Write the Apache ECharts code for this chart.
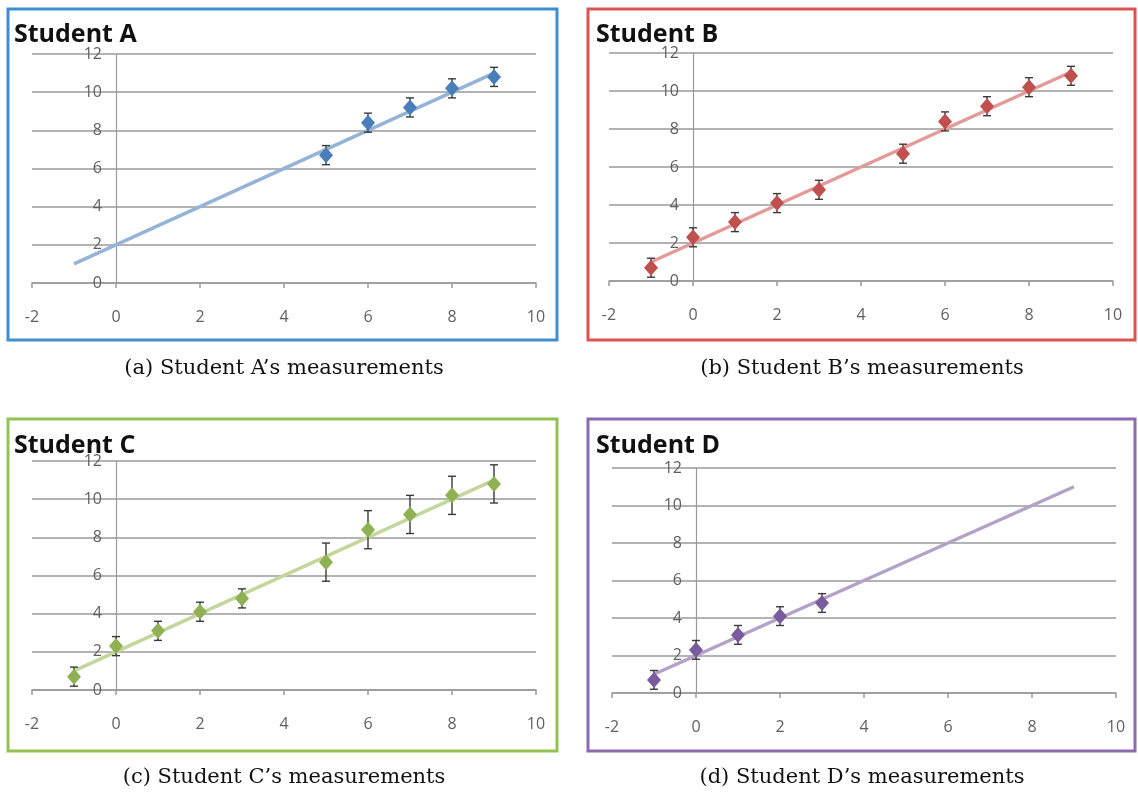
<!DOCTYPE html>
<html>
<head>
<meta charset="utf-8">
<title>Student measurements</title>
<script src="https://cdn.jsdelivr.net/npm/echarts@6/dist/echarts.min.js"></script>
<style>
  html, body { margin: 0; padding: 0; background: #ffffff; }
  #chart { width: 1138px; height: 792px; }
</style>
</head>
<body>
<div id="chart"></div>
<script>
// Measured points (x, y) and error half-widths for each student
const xFew = [5, 6, 7, 8, 9];
const yFew = [6.7, 8.4, 9.2, 10.2, 10.8];
const errFew = [0.5, 0.5, 0.5, 0.5, 0.5];

const xAll = [-1, 0, 1, 2, 3, 5, 6, 7, 8, 9];
const yAll = [0.7, 2.3, 3.1, 4.1, 4.8, 6.7, 8.4, 9.2, 10.2, 10.8];
const errSmall = [0.5, 0.5, 0.5, 0.5, 0.5, 0.5, 0.5, 0.5, 0.5, 0.5];
const errLarge = [0.5, 0.5, 0.5, 0.5, 0.5, 1.0, 1.0, 1.0, 1.0, 1.0];

const xLow = [-1, 0, 1, 2, 3];
const yLow = [0.7, 2.3, 3.1, 4.1, 4.8];
const errLow = [0.5, 0.5, 0.5, 0.5, 0.5];

// Best-fit line endpoints shared by all four plots
const trendX = [-1, 9];
const trendY = [1, 11];

// Panel titles and captions
const panelTitles = ['Student A', 'Student B', 'Student C', 'Student D'];
const captions = [
  '(a) Student A\u2019s measurements',
  '(b) Student B\u2019s measurements',
  '(c) Student C\u2019s measurements',
  '(d) Student D\u2019s measurements'
];

// Axis ranges
const xMin = -2, xMax = 10, xStep = 2;
const yMin = 0, yMax = 12, yStep = 2;

const panels = [
  { xs: xFew, ys: yFew, errs: errFew, marker: '#4a7ebb', line: '#95b3d7', frame: '#3f8fd0' },
  { xs: xAll, ys: yAll, errs: errSmall, marker: '#c0504d', line: '#e39a98', frame: '#dc5450' },
  { xs: xAll, ys: yAll, errs: errLarge, marker: '#8fb154', line: '#c3d69b', frame: '#93c152' },
  { xs: xLow, ys: yLow, errs: errLow, marker: '#7a5c9e', line: '#b3a2c7', frame: '#8b6bb1' }
];

// Layout boxes: plot areas, frames and caption positions
const grids = [
  { left: 32, top: 54, width: 504, height: 229 },
  { left: 609, top: 53, width: 504, height: 228 },
  { left: 32, top: 461, width: 504, height: 229 },
  { left: 612, top: 468, width: 504, height: 225 }
];
const frames = [
  { x: 8, y: 9, w: 549, h: 331 },
  { x: 588, y: 9, w: 547, h: 331 },
  { x: 8, y: 419, w: 549, h: 332 },
  { x: 588, y: 419, w: 547, h: 332 }
];
const titlePos = [
  { left: 14, top: 22 }, { left: 596, top: 22 },
  { left: 14, top: 433 }, { left: 596, top: 433 }
];
const captionPos = [
  { x: 284, y: 358 }, { x: 862, y: 358 },
  { x: 284, y: 767 }, { x: 862, y: 767 }
];

const gridColor = '#9a9a9a';
const labelColor = '#5f5f5f';

const option = {
  backgroundColor: '#ffffff',
  animation: false,
  title: [],
  grid: [],
  xAxis: [],
  yAxis: [],
  series: [],
  graphic: []
};

panels.forEach((p, i) => {
  const g = grids[i];
  option.grid.push(Object.assign({ containLabel: false }, g));

  // The vertical axis sits at x = 0 inside the plot
  const yAxisShift = -(0 - xMin) / (xMax - xMin) * g.width;

  option.title.push({
    text: panelTitles[i],
    left: titlePos[i].left,
    top: titlePos[i].top,
    padding: 0,
    textStyle: { fontFamily: 'Open Sans', fontWeight: 'bold', fontSize: 25, color: '#111111' }
  });
  option.title.push({
    text: captions[i],
    left: captionPos[i].x,
    top: captionPos[i].y,
    textAlign: 'center',
    padding: 0,
    textStyle: { fontFamily: 'DejaVu Serif', fontWeight: 'normal', fontSize: 21, color: '#111111' }
  });

  option.xAxis.push({
    type: 'value',
    gridIndex: i,
    min: xMin, max: xMax, interval: xStep,
    axisLine: { onZero: true, lineStyle: { color: gridColor, width: 1.5 } },
    axisTick: { show: true, length: 5, lineStyle: { color: gridColor, width: 1.5 } },
    splitLine: { show: false },
    axisLabel: { margin: 26, color: labelColor, fontFamily: 'Open Sans', fontSize: 16 }
  });
  option.yAxis.push({
    type: 'value',
    gridIndex: i,
    position: 'left',
    offset: yAxisShift,
    min: yMin, max: yMax, interval: yStep,
    axisLine: { show: true, onZero: false, lineStyle: { color: gridColor, width: 1.2 } },
    axisTick: { show: false },
    splitLine: { show: true, lineStyle: { color: gridColor, width: 1.5 } },
    axisLabel: { margin: 14, color: labelColor, fontFamily: 'Open Sans', fontSize: 16 }
  });

  // Best-fit line
  option.series.push({
    type: 'line',
    xAxisIndex: i, yAxisIndex: i,
    symbol: 'none',
    lineStyle: { color: p.line, width: 3.5 },
    z: 3,
    data: trendX.map((x, k) => [x, trendY[k]])
  });

  // Error bars with caps
  option.series.push({
    type: 'custom',
    xAxisIndex: i, yAxisIndex: i,
    z: 4,
    data: p.xs.map((x, k) => [x, p.ys[k] - p.errs[k], p.ys[k] + p.errs[k]]),
    renderItem: function (params, api) {
      const lo = api.coord([api.value(0), api.value(1)]);
      const hi = api.coord([api.value(0), api.value(2)]);
      const cap = 4;
      const style = { stroke: '#3a3a3a', lineWidth: 1.4, fill: null };
      return {
        type: 'group',
        children: [
          { type: 'line', shape: { x1: lo[0], y1: lo[1], x2: hi[0], y2: hi[1] }, style: style },
          { type: 'line', shape: { x1: lo[0] - cap, y1: lo[1], x2: lo[0] + cap, y2: lo[1] }, style: style },
          { type: 'line', shape: { x1: hi[0] - cap, y1: hi[1], x2: hi[0] + cap, y2: hi[1] }, style: style }
        ]
      };
    }
  });

  // Measured points
  option.series.push({
    type: 'scatter',
    xAxisIndex: i, yAxisIndex: i,
    symbol: 'diamond',
    symbolSize: [14, 16],
    itemStyle: { color: p.marker, opacity: 1 },
    z: 5,
    data: p.xs.map((x, k) => [x, p.ys[k]])
  });

  // Coloured frame around each panel
  option.graphic.push({
    type: 'rect',
    shape: { x: frames[i].x, y: frames[i].y, width: frames[i].w, height: frames[i].h },
    style: { fill: 'none', stroke: p.frame, lineWidth: 3 },
    z: 10
  });
});

const chart = echarts.init(document.getElementById('chart'), null, { renderer: 'canvas' });
chart.setOption(option);
</script>
</body>
</html>
